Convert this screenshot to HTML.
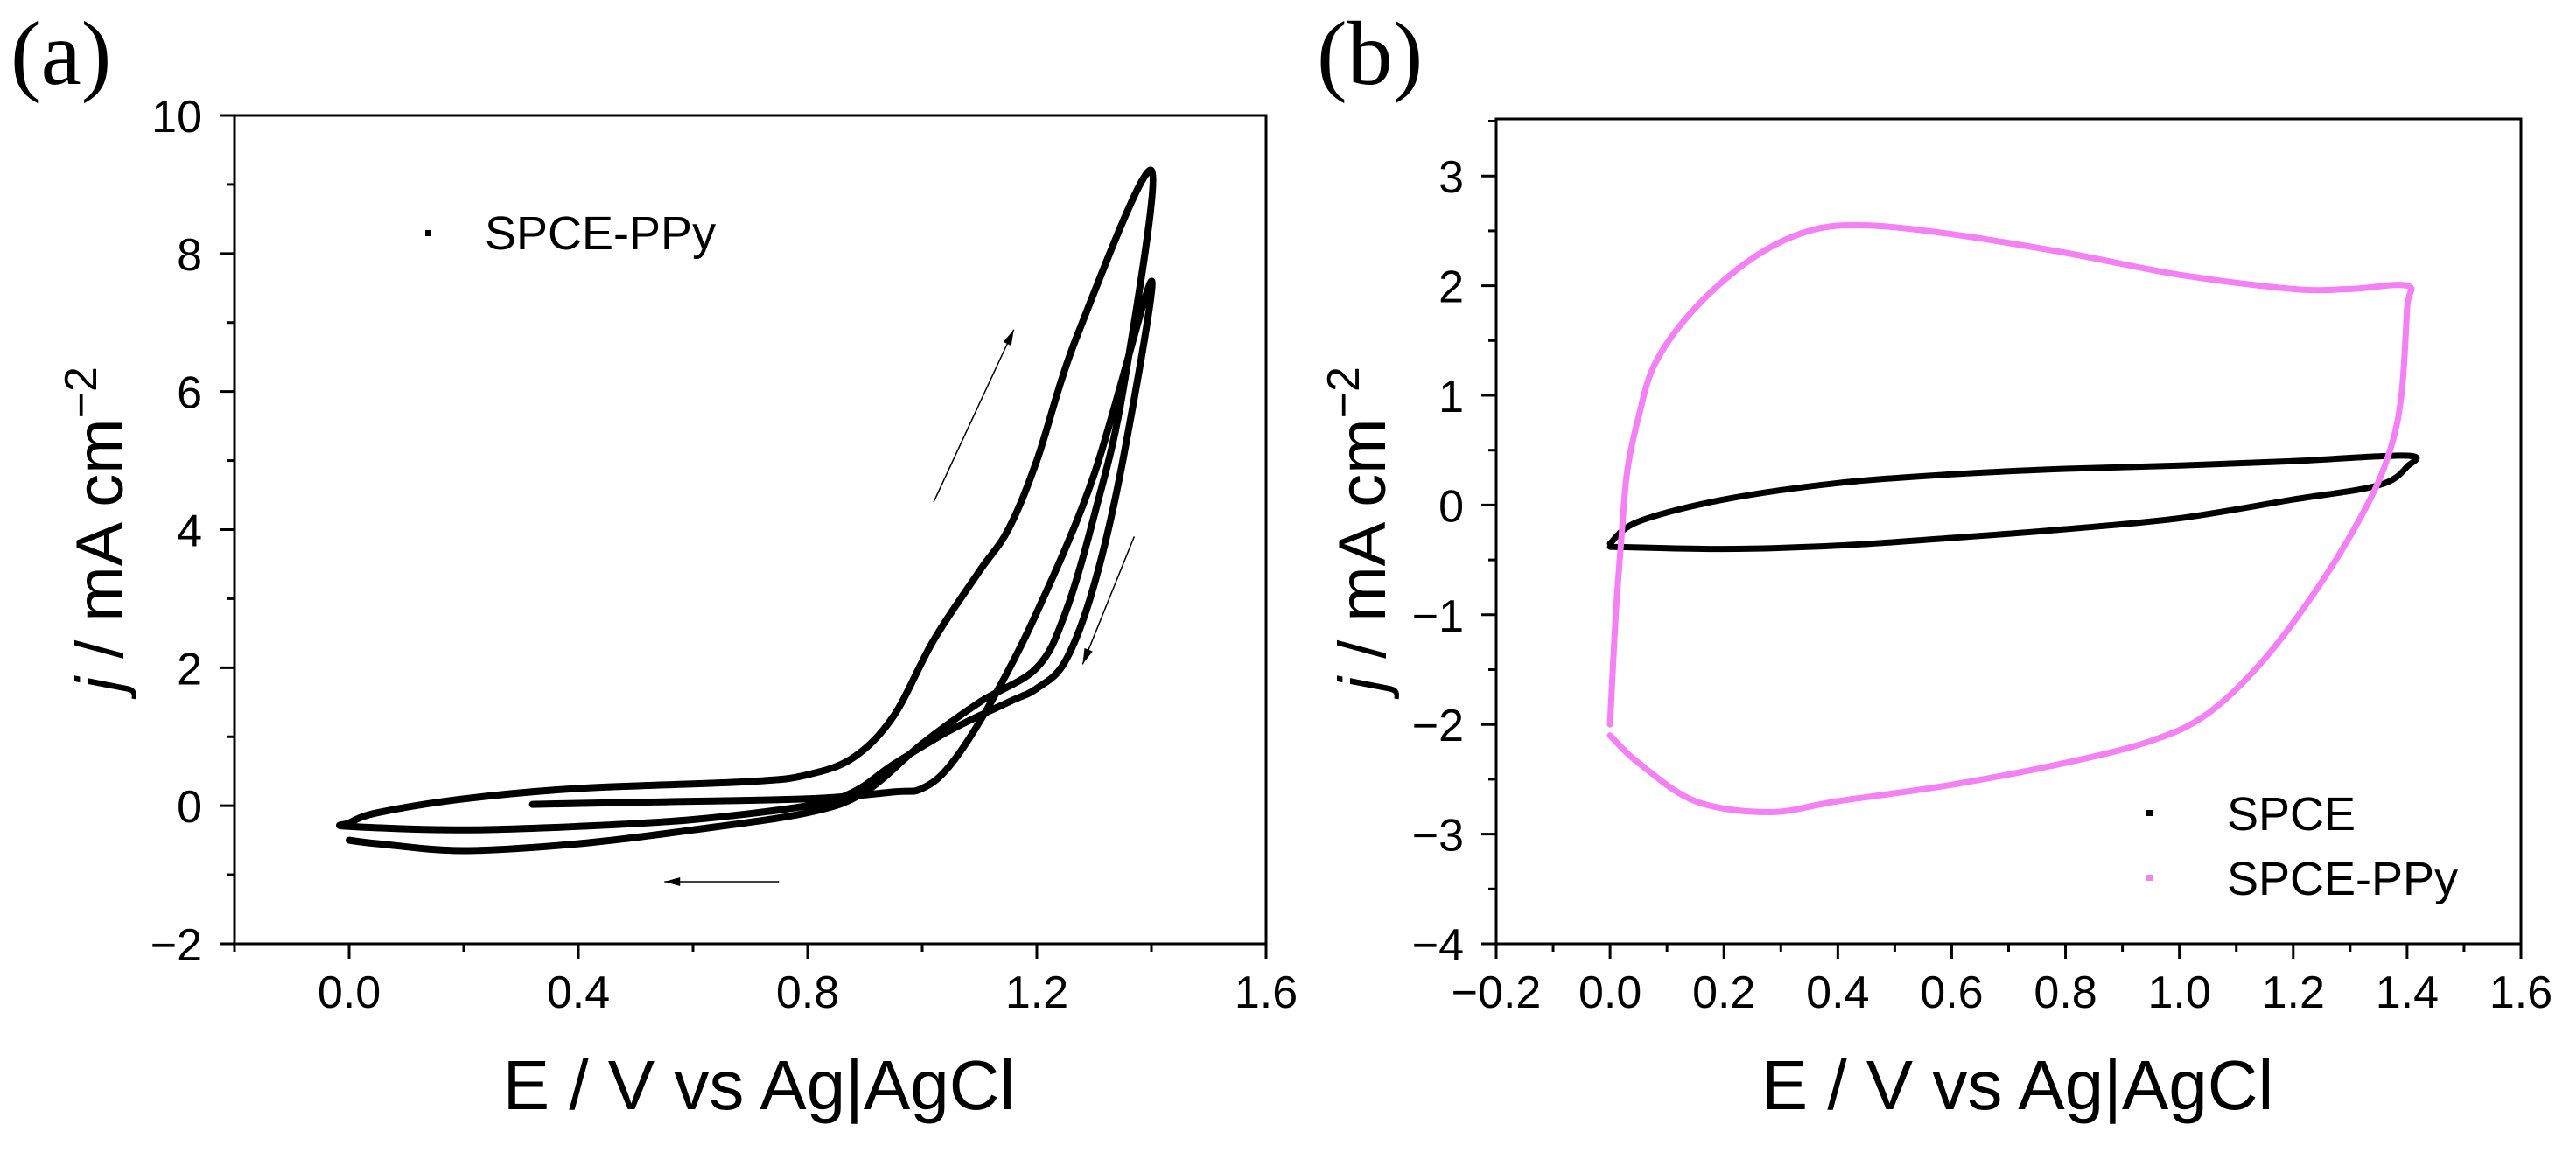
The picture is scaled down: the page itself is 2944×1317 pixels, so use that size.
<!DOCTYPE html>
<html><head><meta charset="utf-8"><style>
body{margin:0;background:#fff;overflow:hidden}
svg{display:block}
text{font-family:"Liberation Sans",Arial,sans-serif;fill:#000}
</style></head><body>
<svg id="fig" width="2944" height="1317" viewBox="0 0 2944 1317" xmlns="http://www.w3.org/2000/svg"></svg>
<script>
// Panel (a) data: SPCE-PPy multi-cycle CV
const aE = [0.32,0.5,0.8,0.95,1.0,1.05,1.12,1.2,1.3,1.4, 1.35,1.3,1.25,1.2,1.15,1.05,0.95,0.88,0.8,0.6,0.4,0.2,0.0, 0.0,0.05,0.2,0.4,0.7,0.8,0.88,0.95,1.02,1.1,1.15,1.2,1.27,1.4, 1.35,1.3,1.25,1.2,1.1,1.0,0.9,0.8,0.6,0.4,0.2,0.05,0.0];
const aJ = [0.02,0.05,0.1,0.2,0.25,0.6,1.5,2.8,4.8,7.6, 5.0,3.2,2.1,1.7,1.5,1.1,0.6,0.2,0.0,-0.2,-0.3,-0.35,-0.3, -0.25,-0.1,0.1,0.25,0.35,0.45,0.7,1.3,2.4,3.4,4.0,5.0,6.8,9.2, 6.0,4.2,2.8,2.0,1.5,0.9,0.2,-0.1,-0.35,-0.55,-0.65,-0.55,-0.5];
// Panel (b) data
const spceE = [0.0,0.05,0.2,0.4,0.6,0.8,1.0,1.2,1.4,1.4,1.35,1.2,1.0,0.8,0.6,0.4,0.2,0.0];
const spceJ = [-0.35,-0.15,0.05,0.2,0.28,0.33,0.36,0.4,0.45,0.35,0.18,0.05,-0.12,-0.22,-0.3,-0.37,-0.4,-0.38];
const ppyE = [0.0,0.01,0.02,0.03,0.05,0.08,0.15,0.25,0.35,0.45,0.6,0.8,1.0,1.2,1.3,1.4,1.4,1.39,1.37,1.33,1.25,1.15,1.05,0.95,0.8,0.6,0.4,0.28,0.15,0.05,0.0];
const ppyJ = [-2.0,-1.0,-0.3,0.3,0.8,1.3,1.8,2.25,2.5,2.55,2.47,2.3,2.1,1.97,1.97,2.0,1.8,1.0,0.5,0.0,-0.7,-1.4,-1.9,-2.15,-2.35,-2.55,-2.7,-2.8,-2.7,-2.35,-2.1];
const aXTicks = [0.0,0.4,0.8,1.2,1.6];
const aYTicks = [-2,0,2,4,6,8,10];
const bXTicks = [-0.2,0,0.2,0.4,0.6,0.8,1.0,1.2,1.4,1.6];
const bYTicks = [-4,-3,-2,-1,0,1,2,3];

const NS="http://www.w3.org/2000/svg";
const svg=document.getElementById('fig');
function mk(tag,attrs,parent){const e=document.createElementNS(NS,tag);for(const k in attrs)e.setAttribute(k,attrs[k]);(parent||svg).appendChild(e);return e;}

function panel(p){
  const g=mk('g',{});
  
  
  const sx=v=>p.L+(v-p.x0)/(p.x1-p.x0)*(p.R-p.L);
  const sy=v=>p.B-(v-p.y0)/(p.y1-p.y0)*(p.B-p.T);
  const fr=mk('rect',{x:p.L,y:p.T,width:p.R-p.L,height:p.B-p.T,fill:'none',stroke:'#000','stroke-width':3},g);
  
  
  for(let i=0;;i++){const v=p.x0+i*p.xminor;if(v>p.x1+1e-9)break;
    const maj=p.xt.some(t=>Math.abs(t-v)<1e-6);
    mk('line',{x1:sx(v),x2:sx(v),y1:p.B,y2:p.B+(maj?17:9),stroke:'#000','stroke-width':3},g);
  }
  p.xt.forEach(t=>{const e=mk('text',{x:sx(t),y:p.B+73,'font-size':52,'text-anchor':'middle'},g);e.textContent=t.toFixed(1).replace('-','−');
    });
  for(let i=0;;i++){const v=p.y0+i*p.yminor;if(v>p.y1+1e-9)break;
    const maj=p.yt.some(t=>Math.abs(t-v)<1e-6);
    mk('line',{x1:p.L,x2:p.L-(maj?17:9),y1:sy(v),y2:sy(v),stroke:'#000','stroke-width':3},g);
  }
  p.yt.forEach(t=>{const e=mk('text',{x:p.L-37,y:sy(t)+19,'font-size':52,'text-anchor':'end'},g);e.textContent=String(t).replace('-','−');
    });
  const xt=mk('text',{x:(p.L+p.R)/2+10,y:1268,'font-size':80,'text-anchor':'middle'},g);
  xt.textContent='E / V vs Ag|AgCl';
  
  const yt=mk('text',{x:0,y:0,'font-size':76,'text-anchor':'middle',transform:`translate(${p.ytx},605) rotate(-90)`},g);
  yt.innerHTML='<tspan font-style="italic">j</tspan> / mA cm<tspan dy="-30" font-size="52">−2</tspan>';
  
  const pl=mk('text',{x:p.lx,y:96,'font-size':104},g);
  pl.setAttribute('style','font-family:"Liberation Serif",serif');
  pl.textContent=p.label;
  
  return {g,sx,sy};
}
function series(ax,E,J,color,w,name){
  const P=E.map((e,i)=>[ax.sx(e),ax.sy(J[i])]);
  let d='M'+P[0][0].toFixed(1)+','+P[0][1].toFixed(1);
  for(let i=0;i<P.length-1;i++){
    const p0=P[Math.max(i-1,0)],p1=P[i],p2=P[i+1],p3=P[Math.min(i+2,P.length-1)];
    const c1=[p1[0]+(p2[0]-p0[0])/6,p1[1]+(p2[1]-p0[1])/6];
    const c2=[p2[0]-(p3[0]-p1[0])/6,p2[1]-(p3[1]-p1[1])/6];
    d+=`C${c1[0].toFixed(1)},${c1[1].toFixed(1)} ${c2[0].toFixed(1)},${c2[1].toFixed(1)} ${p2[0].toFixed(1)},${p2[1].toFixed(1)}`;
  }
  const path=mk('path',{d,fill:'none',stroke:color,'stroke-width':w,'stroke-linejoin':'round','stroke-linecap':'round'},ax.g);
  
  
}
function arrow(ax,x1,y1,x2,y2){
  const X1=ax.sx(x1),Y1=ax.sy(y1),X2=ax.sx(x2),Y2=ax.sy(y2);
  const a=Math.atan2(Y2-Y1,X2-X1),h=18,s=5;
  const g=mk('g',{},ax.g);
  
  
  mk('line',{x1:X1,y1:Y1,x2:X2,y2:Y2,stroke:'#000','stroke-width':1.5},g);
  mk('polygon',{points:`${X2},${Y2} ${X2-h*Math.cos(a)+s*Math.sin(a)},${Y2-h*Math.sin(a)-s*Math.cos(a)} ${X2-h*Math.cos(a)-s*Math.sin(a)},${Y2-h*Math.sin(a)+s*Math.cos(a)}`,fill:'#000'},g);
}
const A=panel({name:'panel-a',L:268,R:1447,T:132,B:1079,x0:-0.2,x1:1.6,y0:-2,y1:10,xt:aXTicks,yt:aYTicks,xminor:0.2,yminor:1,ytx:140,lx:12,label:'(a)'});
series(A,aE,aJ,'#000',8,'spce-ppy-curve');
arrow(A,1.02,4.4,1.16,6.9);
arrow(A,1.37,3.9,1.28,2.05);
arrow(A,0.75,-1.1,0.55,-1.1);
let lg=mk('g',{},A.g);
mk('rect',{x:486,y:263,width:7,height:7,fill:'#000'},lg);
let lt=mk('text',{x:554,y:285,'font-size':54},lg);lt.textContent='SPCE-PPy';

const B=panel({name:'panel-b',L:1710,R:2881,T:136,B:1079,x0:-0.2,x1:1.6,y0:-4,y1:3.52,xt:bXTicks,yt:bYTicks,xminor:0.1,yminor:0.5,ytx:1583,lx:1505,label:'(b)'});
series(B,spceE,spceJ,'#000',7,'spce-curve');
series(B,ppyE,ppyJ,'#f57ff5',7,'spce-ppy-curve');
lg=mk('g',{},B.g);
mk('rect',{x:2453,y:926,width:7,height:7,fill:'#000'},lg);
lt=mk('text',{x:2545,y:949,'font-size':54},lg);lt.textContent='SPCE';
lg=mk('g',{},B.g);
mk('rect',{x:2453,y:1000,width:7,height:7,fill:'#f57ff5'},lg);
lt=mk('text',{x:2545,y:1023,'font-size':54},lg);lt.textContent='SPCE-PPy';
</script>
</body></html>
